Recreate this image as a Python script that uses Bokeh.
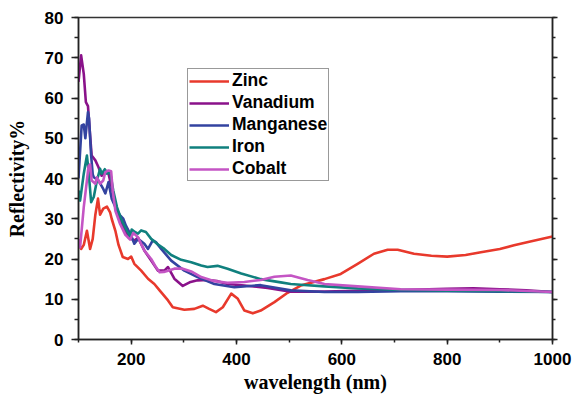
from bokeh.plotting import figure
from bokeh.models import Range1d, SingleIntervalTicker, LinearAxis, Legend, LegendItem, CustomJSTickFormatter
from bokeh.embed import file_html
from bokeh.resources import INLINE

# ---- data (wavelength nm, reflectivity %) ----
zinc_x = [100, 105, 110, 116, 122, 127, 132, 137, 141, 147, 154, 160, 163, 170, 176, 184, 194, 200, 206,
          219, 232, 244, 254, 270, 279, 301, 320, 336, 348, 361, 374, 390, 402, 415, 431, 446, 472, 497,
          522, 567, 598, 630, 661, 687, 706, 737, 770, 800, 835, 864, 900, 927, 960, 1000]
zinc_y = [24, 22.5, 23.5, 27, 22.5, 25, 31, 35, 31, 32.5, 33, 31.6, 30, 27, 23.5, 20.5, 20, 20.6, 18.8,
          17.1, 15.1, 13.8, 12.2, 9.7, 8, 7.4, 7.6, 8.4, 7.6, 6.8, 8, 11.4, 10.2, 7.2, 6.5, 7.2, 9.3, 11.6,
          13.4, 15, 16.3, 18.8, 21.3, 22.3, 22.3, 21.3, 20.8, 20.6, 21, 21.7, 22.5, 23.4, 24.4, 25.6]

vanadium_x = [100, 105, 110, 114, 118, 122, 125, 132, 138, 144, 151, 157, 163, 170, 179, 189, 195, 206,
              213, 225, 238, 251, 263, 270, 282, 298, 311, 326, 345, 364, 383, 415, 459, 503, 567, 630,
              712, 800, 850, 900, 950, 1000]
vanadium_y = [64, 70.6, 66, 59, 58, 50.7, 45.7, 44.5, 42.8, 40.7, 42, 41.2, 37.8, 33.8, 29.6, 27, 25.4,
              24.6, 25.3, 22.1, 19.6, 17.1, 17.1, 18, 15.1, 13.3, 14.2, 14.7, 14.8, 14.5, 13.8, 13.4, 12.8,
              11.9, 11.9, 12.1, 12.3, 12.6, 12.7, 12.5, 12.2, 11.8]

manganese_x = [100, 106, 110, 113, 118, 120, 124, 127, 129, 138, 147, 151, 157, 163, 170, 179, 185, 190,
               200, 206, 213, 225, 232, 241, 247, 257, 276, 301, 326, 358, 396, 446, 503, 567, 630, 712,
               800, 900, 1000]
manganese_y = [40, 53.2, 53.4, 50, 56.5, 55, 45.7, 41, 40.3, 39.5, 37.4, 36.3, 39.1, 35, 32.9, 30.8, 30,
               28.3, 25.8, 23.8, 25, 23.8, 22.5, 24.6, 24.2, 22.5, 19.6, 17.1, 15.5, 13.8, 13, 13.5, 12.2,
               11.8, 11.8, 12, 12, 11.9, 11.8]

iron_x = [100, 103, 110, 116, 119, 124, 129, 135, 141, 144, 150, 154, 160, 166, 173, 182, 192, 198, 201,
          207, 213, 219, 228, 238, 251, 263, 276, 295, 314, 333, 345, 364, 383, 409, 446, 484, 503, 522,
          567, 630, 712, 800, 900, 1000]
iron_y = [37, 34.5, 41.2, 45.7, 42, 34.1, 35.4, 39.5, 42.4, 41.2, 42.3, 41.2, 41.6, 37, 32.9, 29.6, 27,
          25.6, 27.3, 26.7, 26.3, 27.1, 26.7, 25, 23.6, 22.5, 21, 19.8, 19.2, 18.4, 18, 18.3, 17.6, 16.4,
          15, 14.2, 13.8, 13.6, 13.2, 12.7, 12.3, 12.1, 12, 11.8]

cobalt_x = [100, 103, 110, 116, 119, 122, 125, 132, 135, 141, 147, 151, 157, 162, 165, 170, 179, 189,
            198, 204, 213, 225, 238, 247, 254, 262, 270, 282, 298, 314, 333, 358, 383, 415, 446, 472, 503,
            535, 567, 630, 712, 800, 900, 1000]
cobalt_y = [25, 22.9, 32.9, 39.5, 43, 43.5, 39.5, 38.7, 40.3, 38.7, 39.5, 41.6, 42, 41.8, 37, 32, 28.7,
            26, 24.8, 26.5, 25.4, 22.1, 20, 18, 16.7, 16.8, 17.1, 17.6, 17.6, 16.9, 15.5, 14.5, 14.1, 14.3,
            14.8, 15.6, 15.9, 14.8, 13.8, 13.2, 12.5, 12.4, 12.3, 11.8]

series_names = ["Zinc", "Vanadium", "Manganese", "Iron", "Cobalt"]
series_colors = ["#e8392c", "#8a128a", "#3343a0", "#10807e", "#c455c4"]
series_data = [(zinc_x, zinc_y), (vanadium_x, vanadium_y), (manganese_x, manganese_y),
               (iron_x, iron_y), (cobalt_x, cobalt_y)]

p = figure(width=578, height=399, output_backend="svg", toolbar_location=None,
           x_range=Range1d(100, 1000), y_range=Range1d(0, 80))
p.min_border_left = 78
p.min_border_right = 26
p.min_border_top = 17
p.min_border_bottom = 60
p.xgrid.visible = False
p.ygrid.visible = False
p.outline_line_color = "#333333"
p.outline_line_width = 1.5
p.background_fill_color = "white"
p.border_fill_color = "white"

items = []
for name, color, (xs, ys) in zip(series_names, series_colors, series_data):
    r = p.line(xs, ys, line_color=color, line_width=2.6, line_join="round")
    items.append(LegendItem(label=name, renderers=[r]))

tick_font = "Liberation Sans"
xa = p.xaxis[0]
xa.ticker = SingleIntervalTicker(interval=200, num_minor_ticks=2)
ya = p.yaxis[0]
ya.ticker = SingleIntervalTicker(interval=10, num_minor_ticks=2)
for ax in (xa, ya):
    ax.axis_line_color = "#222222"
    ax.axis_line_width = 1.5
    ax.major_tick_line_color = "#222222"
    ax.minor_tick_line_color = "#222222"
    ax.major_tick_line_width = 1.5
    ax.minor_tick_line_width = 1.5
    ax.major_tick_in = 0
    ax.minor_tick_in = 0
    ax.major_label_text_font = tick_font
    ax.major_label_text_font_style = "bold"
    ax.major_label_text_font_size = "17px"
    ax.major_label_text_color = "black"
    ax.axis_label_text_font = "Liberation Serif"
    ax.axis_label_text_font_style = "bold"
    ax.axis_label_text_font_size = "20px"
    ax.axis_label_text_color = "black"
xa.major_tick_out = 5
xa.minor_tick_out = 3
xa.major_label_standoff = 8
xa.axis_label = "wavelength (nm)"
xa.axis_label_standoff = 3
ya.major_tick_out = 7
ya.minor_tick_out = 4
ya.major_label_standoff = 8
ya.axis_label = "Reflectivity%"
ya.axis_label_standoff = 14

ra = LinearAxis(ticker=SingleIntervalTicker(interval=10, num_minor_ticks=2),
                formatter=CustomJSTickFormatter(code="return ''"))
ra.axis_line_color = "#222222"
ra.axis_line_width = 1.5
ra.major_tick_line_color = "#222222"
ra.minor_tick_line_color = "#222222"
ra.major_tick_line_width = 1.5
ra.minor_tick_line_width = 1.5
ra.major_tick_in = 0
ra.minor_tick_in = 0
ra.major_tick_out = 5
ra.minor_tick_out = 3
ra.major_label_standoff = 0
p.add_layout(ra, "right")

legend = Legend(items=items, location=(109, 158))
legend.label_text_font = tick_font
legend.label_text_font_style = "bold"
legend.label_text_font_size = "17.5px"
legend.label_text_color = "black"
legend.glyph_width = 40
legend.glyph_height = 18
legend.spacing = 1
legend.padding = 1
legend.margin = 0
legend.label_standoff = 3
legend.label_height = 18
legend.border_line_color = "#333333"
legend.border_line_width = 1.2
legend.background_fill_color = "white"
legend.background_fill_alpha = 1.0
p.add_layout(legend, "center")

open("out.html", "w").write(file_html(p, INLINE))
